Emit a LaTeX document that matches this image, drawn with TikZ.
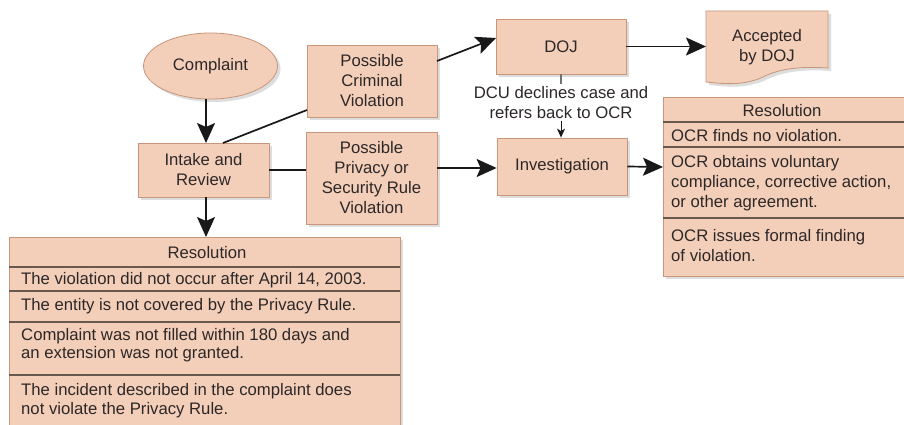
\documentclass[tikz,border=0pt]{standalone}
\usepackage{fontspec}
\setmainfont{Liberation Sans}
\usetikzlibrary{shapes.geometric,arrows.meta,shadows}
\definecolor{peach}{RGB}{243,206,185}
\definecolor{edgec}{RGB}{200,150,122}
\definecolor{txt}{RGB}{45,40,40}
\definecolor{sepc}{RGB}{105,88,80}
\definecolor{arrc}{RGB}{25,25,25}
\begin{document}
\begin{tikzpicture}[x=1pt,y=-1pt,
  boxfont/.style={font=\fontsize{16.7}{20}\selectfont, text=txt},
  shad/.style={drop shadow={shadow xshift=3pt,shadow yshift=-3pt,fill=black!22,opacity=.6}},
  flowbox/.style={rectangle, fill=peach, draw=edgec, line width=0.8pt, shad, boxfont, align=center, inner sep=0pt},
  rowtext/.style={boxfont, anchor=west, align=left, inner sep=0pt},
  sepline/.style={draw=sepc, line width=1.4pt},
  conn/.style={draw=arrc, line width=1.7pt},
  arr/.style={conn, -{Stealth[length=20pt,width=18pt,inset=4pt]}},
  smallarr/.style={draw=arrc, line width=1pt, -{Stealth[length=9pt,width=8pt,inset=2.5pt]}},
  stub/.style={draw=black!55, line width=2.4pt}
]
\useasboundingbox (0,0) rectangle (904,425);
\fill[white] (0,0) rectangle (904,425);

% nodes
\node[flowbox, ellipse, minimum width=134pt, minimum height=66pt] (complaint) at (210.5,66) {Complaint};
\node[flowbox, minimum width=131pt, minimum height=54pt] (intake) at (203.5,170) {Intake and\\Review};
\node[flowbox, minimum width=130pt, minimum height=72pt] (criminal) at (372,81) {Possible\\Criminal\\Violation};
\node[flowbox, minimum width=131pt, minimum height=92pt] (privacy) at (371.5,178) {Possible\\Privacy or\\Security Rule\\Violation};
\node[flowbox, minimum width=130pt, minimum height=55pt] (doj) at (561,46.5) {DOJ};
\node[flowbox, minimum width=130pt, minimum height=57pt] (invest) at (562,166.5) {Investigation};

% Accepted by DOJ (document shape)
\filldraw[fill=peach, draw=edgec, line width=0.8pt, shad]
  (706,11) -- (828,11) -- (828,68)
  .. controls (800,66) and (780,69) .. (765,76)
  .. controls (745,86) and (725,84) .. (706,82) -- cycle;
\node[boxfont, align=center, inner sep=0pt] (accepted) at (767,47) {Accepted\\by DOJ};
\coordinate (accw) at (706,46.5);

% Right resolution table
\node[rectangle, fill=peach, draw=edgec, line width=0.8pt, shad, inner sep=0pt, minimum width=243pt, minimum height=179pt] (resR) at (784.5,186.5) {};
\draw[sepline] (663,122) -- (906,122);
\draw[sepline] (663,147) -- (906,147);
\draw[sepline] (663,218) -- (906,218);
\node[boxfont, inner sep=0pt] (resRh) at (782,111) {Resolution};
\node[rowtext] (rr1) at (671,136) {OCR finds no violation.};
\node[rowtext] (rr2) at (671,183) {OCR obtains voluntary\\compliance, corrective action,\\or other agreement.};
\node[rowtext] (rr3) at (671,246) {OCR issues formal finding\\of violation.};

% Left resolution table
\node[rectangle, fill=peach, draw=edgec, line width=0.8pt, shad, inner sep=0pt, minimum width=391pt, minimum height=200pt] (resL) at (204.5,337) {};
\draw[sepline] (9,267) -- (400,267);
\draw[sepline] (9,291) -- (400,291);
\draw[sepline] (9,322) -- (400,322);
\draw[sepline] (9,375) -- (400,375);
\node[boxfont, inner sep=0pt] (resLh) at (207,253) {Resolution};
\node[rowtext] (lr1) at (21,280) {The violation did not occur after April 14, 2003.};
\node[rowtext] (lr2) at (21,306) {The entity is not covered by the Privacy Rule.};
\node[rowtext, font=\fontsize{16.7}{18}\selectfont] (lr3) at (21,345) {Complaint was not filled within 180 days and\\an extension was not granted.};
\node[rowtext, font=\fontsize{16.7}{19}\selectfont] (lr4) at (21,400.5) {The incident described in the complaint does\\not violate the Privacy Rule.};

% DOJ referral label
\node[boxfont, align=center, inner sep=0pt] (dcu) at (561,103) {DCU declines case and\\refers back to OCR};
\coordinate (s1) at (561,84);
\coordinate (s2) at (561,121);
\coordinate (resRin) at (663,167);
\coordinate (resLin) at (206,237);
\coordinate (intTop) at (223,143);
\coordinate (crimIn) at (307,110);
\coordinate (crimOut) at (437,61);
\coordinate (dojIn) at (496,38);

% connectors
\draw[arr] (complaint.south -| 206,0) -- (206,143);
\draw[conn] (intTop) -- (crimIn);
\draw[arr] (crimOut) -- (dojIn);
\draw[conn] (intake.east |- 0,170) -- (privacy.west |- 0,170);
\draw[arr] (privacy.east |- 0,168) -- (invest.west |- 0,168);
\draw[arr] (doj.east) -- (accw);
\draw[stub] (doj.south) -- (s1);
\draw[smallarr] (s2) -- (invest.north -| s2);
\draw[arr] (invest.east) -- (resRin);
\draw[arr] (intake.south -| 206,0) -- (resLin);
\end{tikzpicture}
\end{document}
